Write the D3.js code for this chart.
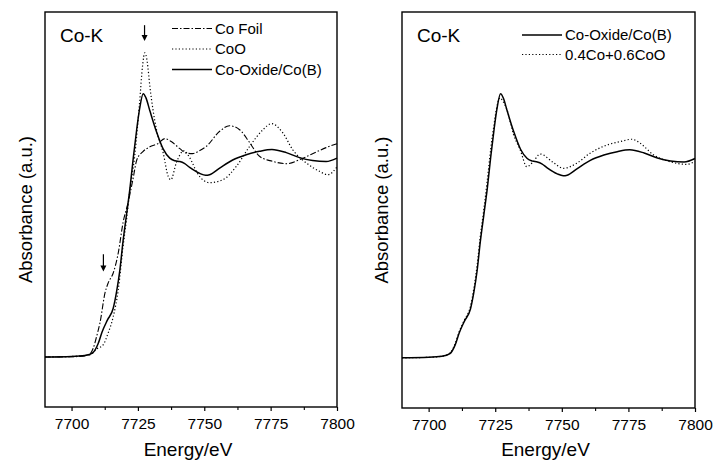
<!DOCTYPE html>
<html>
<head>
<meta charset="utf-8">
<script src="https://cdn.jsdelivr.net/npm/d3@7"></script>
<style>
  body { margin: 0; background: #fff; }
  text { font-family: "Liberation Sans", Arial, Helvetica, sans-serif; fill: #000; }
</style>
</head>
<body>
<script>
// Energy ticks (eV)
var majorTicks = [7700, 7725, 7750, 7775, 7800];
var minorTicks = [7712.5, 7737.5, 7762.5, 7787.5];

// Normalised absorbance, [energy, absorbance]
var coOxide = [
  [7690, 0], [7700, 0.002], [7705, 0.006], [7708, 0.016], [7710, 0.05],
  [7711.5, 0.095], [7713.5, 0.14], [7715.7, 0.185], [7717, 0.25], [7718.2, 0.33],
  [7719.4, 0.44], [7720.7, 0.54], [7722, 0.64], [7723.3, 0.76], [7724.5, 0.86],
  [7725.6, 0.94], [7727, 1.0], [7728, 0.985], [7729.5, 0.935], [7732, 0.855],
  [7734.5, 0.79], [7737, 0.755], [7739, 0.745], [7740.8, 0.742], [7742.5, 0.735],
  [7744.5, 0.72], [7748.3, 0.697], [7750.5, 0.69], [7752, 0.692], [7755.8, 0.717],
  [7760.7, 0.748], [7765.8, 0.768], [7770.8, 0.781], [7775.5, 0.788], [7780.9, 0.776],
  [7785.9, 0.757], [7790.8, 0.746], [7795.9, 0.742], [7800, 0.755]
];

var coFoil = [
  [7690, 0], [7700, 0.001], [7705, 0.004], [7707, 0.012], [7708.2, 0.034],
  [7709.5, 0.08], [7710.7, 0.129], [7712.6, 0.243], [7713.8, 0.281], [7715.7, 0.319],
  [7717.6, 0.395], [7719.4, 0.51], [7721.3, 0.586], [7723.1, 0.673], [7724.6, 0.749],
  [7726.8, 0.779], [7729.5, 0.798], [7732.5, 0.81], [7735.1, 0.829], [7737.7, 0.817],
  [7740.8, 0.791], [7743, 0.775], [7745.6, 0.772], [7748, 0.782], [7750.8, 0.8],
  [7755.8, 0.857], [7759.5, 0.878], [7763.3, 0.863], [7767.1, 0.814], [7770.8, 0.762],
  [7775.7, 0.743], [7780.9, 0.734], [7785.9, 0.749], [7790.8, 0.772], [7795.9, 0.795],
  [7800, 0.81]
];

var coO = [
  [7690, 0], [7700, 0.002], [7706.9, 0.008], [7709.4, 0.03], [7711.9, 0.046],
  [7713.8, 0.091], [7715.7, 0.153], [7717.6, 0.255], [7719.4, 0.419], [7720.7, 0.521],
  [7722, 0.635], [7723.8, 0.764], [7725.6, 0.962], [7726.8, 1.11], [7727.6, 1.155],
  [7728.5, 1.122], [7729.5, 1.028], [7732, 0.863], [7734.5, 0.776], [7736.4, 0.686],
  [7737.4, 0.673], [7739.5, 0.738], [7742.3, 0.783], [7744.5, 0.757], [7747.5, 0.696],
  [7752, 0.662], [7757, 0.673], [7762.1, 0.724], [7767.1, 0.8], [7772.1, 0.863],
  [7775.3, 0.886], [7779.6, 0.851], [7783.3, 0.787], [7788.4, 0.737], [7793.4, 0.705],
  [7796.5, 0.692], [7800, 0.722]
];

var mix = [
  [7690, 0], [7700, 0.002], [7705, 0.006], [7708, 0.018], [7710, 0.055],
  [7711.5, 0.1], [7713.5, 0.145], [7715.7, 0.195], [7717, 0.265], [7718.2, 0.35],
  [7719.4, 0.46], [7720.7, 0.56], [7722, 0.67], [7723.3, 0.79], [7724.5, 0.88],
  [7725.6, 0.95], [7726.8, 0.985], [7728, 0.97], [7729.4, 0.94], [7731.9, 0.845],
  [7734.4, 0.787], [7736.9, 0.724], [7739.2, 0.742], [7741.9, 0.772], [7746.9, 0.739],
  [7750.6, 0.718], [7755.6, 0.737], [7760.6, 0.775], [7766.9, 0.806], [7771.9, 0.819],
  [7776.3, 0.828], [7779.4, 0.813], [7784.4, 0.769], [7790.6, 0.743], [7796.9, 0.733],
  [7800, 0.745]
];

// Arrows marking features: [energy, from, to]
var arrows = [[7727.5, 1.26, 1.2], [7712, 0.39, 0.325]];

var styles = {
  solid:   {dash: null, width: 1.5},
  dashdot: {dash: "6,2,1.5,2", width: 1.1},
  dotted:  {dash: "1.2,2.2", width: 1.2}
};

var svg = d3.select("body").append("svg")
    .attr("width", 715)
    .attr("height", 462);

var panels = [
  {left: 45, right: 337, top: 12, bottom: 407, titleX: 32,
   legendX: 172, legendY: 28.5, legendStep: 20.5, arrows: true,
   series: [
     {name: "Co Foil", data: coFoil, style: "dashdot"},
     {name: "CoO", data: coO, style: "dotted"},
     {name: "Co-Oxide/Co(B)", data: coOxide, style: "solid"}
   ]},
  {left: 402, right: 695, top: 12, bottom: 408, titleX: 388,
   legendX: 522, legendY: 35, legendStep: 19.5, arrows: false,
   series: [
     {name: "Co-Oxide/Co(B)", data: coOxide, style: "solid"},
     {name: "0.4Co+0.6CoO", data: mix, style: "dotted"}
   ]}
];

panels.forEach(function(p) {
  var x = d3.scaleLinear().domain([7690, 7800]).range([p.left, p.right]);
  var y = d3.scaleLinear().domain([-0.19, 1.31]).range([p.bottom, p.top]);

  var g = svg.append("g");

  var line = d3.line()
      .x(function(d) { return x(d[0]); })
      .y(function(d) { return y(d[1]); })
      .curve(d3.curveMonotoneX);

  // curves
  p.series.forEach(function(s) {
    g.append("path")
      .datum(s.data)
      .attr("d", line)
      .attr("fill", "none")
      .attr("stroke", "#000")
      .attr("stroke-width", styles[s.style].width)
      .attr("stroke-dasharray", styles[s.style].dash);
  });

  // frame
  g.append("rect")
    .attr("x", p.left).attr("y", p.top)
    .attr("width", p.right - p.left).attr("height", p.bottom - p.top)
    .attr("fill", "none").attr("stroke", "#000").attr("stroke-width", 1.4);

  // bottom axis with minor ticks
  var axis = g.append("g")
    .attr("transform", "translate(0," + p.bottom + ")")
    .call(d3.axisBottom(x).tickValues(majorTicks).tickSize(4).tickPadding(7).tickFormat(d3.format("d")));
  axis.select(".domain").remove();
  axis.selectAll("line").attr("stroke-width", 1.2);
  axis.selectAll("text")
    .style("font-size", "15.5px")
    .style("font-family", "'Liberation Sans', Arial, sans-serif");

  var minor = g.append("g")
    .attr("transform", "translate(0," + p.bottom + ")")
    .call(d3.axisBottom(x).tickValues(minorTicks).tickSize(3).tickFormat(""));
  minor.select(".domain").remove();
  minor.selectAll("line").attr("stroke-width", 1.1);

  // axis titles
  g.append("text")
    .attr("x", (p.left + p.right) / 2 - 3)
    .attr("y", 456)
    .attr("text-anchor", "middle")
    .style("font-size", "19px")
    .text("Energy/eV");

  g.append("text")
    .attr("transform", "translate(" + p.titleX + "," + ((p.top + p.bottom) / 2) + ") rotate(-90)")
    .attr("text-anchor", "middle")
    .style("font-size", "18.5px")
    .text("Absorbance (a.u.)");

  // edge label
  g.append("text")
    .attr("x", p.left + 15)
    .attr("y", 42)
    .style("font-size", "19px")
    .text("Co-K");

  // legend
  p.series.forEach(function(s, i) {
    var ly = p.legendY + i * p.legendStep;
    g.append("line")
      .attr("x1", p.legendX).attr("x2", p.legendX + 40)
      .attr("y1", ly).attr("y2", ly)
      .attr("stroke", "#000")
      .attr("stroke-width", styles[s.style].width)
      .attr("stroke-dasharray", styles[s.style].dash);
    g.append("text")
      .attr("x", p.legendX + 43)
      .attr("y", ly + 5)
      .style("font-size", "15px")
      .text(s.name);
  });

  // arrows
  if (p.arrows) {
    arrows.forEach(function(a) {
      var ax = x(a[0]), y1 = y(a[1]), y2 = y(a[2]);
      g.append("line")
        .attr("x1", ax).attr("x2", ax)
        .attr("y1", y1).attr("y2", y2 - 5)
        .attr("stroke", "#000").attr("stroke-width", 1.2);
      g.append("path")
        .attr("d", "M" + (ax - 3) + "," + (y2 - 6) + "L" + (ax + 3) + "," + (y2 - 6) + "L" + ax + "," + y2 + "Z")
        .attr("fill", "#000");
    });
  }
});
</script>
</body>
</html>
